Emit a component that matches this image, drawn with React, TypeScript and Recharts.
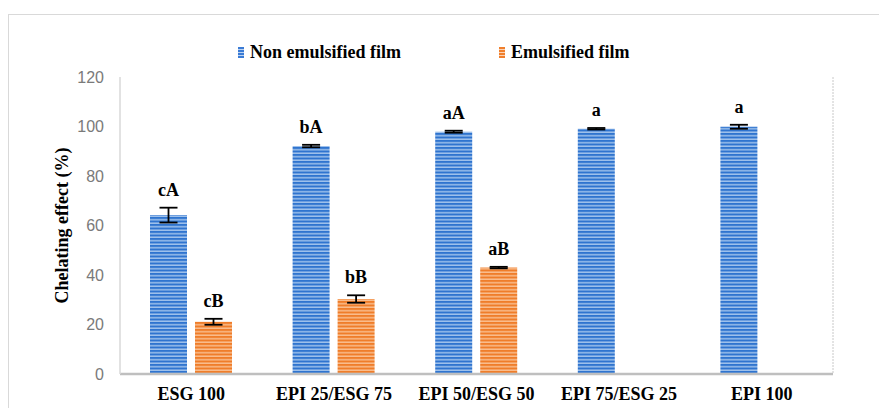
import { BarChart, Bar, XAxis, YAxis, ErrorBar, LabelList } from "recharts";

const categories = ["ESG 100", "EPI 25/ESG 75", "EPI 50/ESG 50", "EPI 75/ESG 25", "EPI 100"];
const nonEmulsified = [64.2, 92.1, 97.9, 99.1, 99.9];
const nonEmulsifiedErr = [3.0, 0.5, 0.4, 0.3, 0.8];
const nonEmulsifiedLetters = ["cA", "bA", "aA", "a", "a"];
const emulsified = [21.1, 30.3, 43.0, null, null];
const emulsifiedErr = [1.2, 1.5, 0.3, null, null];
const emulsifiedLetters = ["cB", "bB", "aB", "", ""];
const yTicks = [0, 20, 40, 60, 80, 100, 120];

const data = categories.map((name, i) => ({
  name,
  ne: nonEmulsified[i],
  neErr: nonEmulsifiedErr[i],
  neLabel: nonEmulsifiedLetters[i],
  em: emulsified[i],
  emErr: emulsifiedErr[i],
  emLabel: emulsifiedLetters[i],
}));

const SERIF = '"Liberation Serif", "Times New Roman", serif';

function makeLetter(errKey: "neErr" | "emErr") {
  return (props: any) => {
    const { x, y, width, height, value, index } = props;
    if (!value) return null;
    const row = data[index];
    const v = errKey === "neErr" ? row.ne : row.em;
    const err = (row as any)[errKey] ?? 0;
    const px = v ? height / v : 0;
    const top = y - err * px;
    return (
      <text
        x={x + width / 2}
        y={top - 12}
        textAnchor="middle"
        fontFamily={SERIF}
        fontWeight="bold"
        fontSize={18}
        fill="#000"
      >
        {value}
      </text>
    );
  };
}

function LegendBox() {
  const item = (color: string, label: string, w: number) => (
    <div style={{ display: "flex", alignItems: "center", width: w }}>
      <span
        style={{
          display: "inline-block",
          width: 6,
          height: 11,
          marginRight: 6,
          background: `repeating-linear-gradient(${color} 0 2px, #ffffffaa 2px 3px)`,
          backgroundColor: color,
        }}
      />
      <span style={{ fontFamily: SERIF, fontWeight: "bold", fontSize: 18, color: "#000" }}>{label}</span>
    </div>
  );
  return (
    <div style={{ position: "absolute", left: 238, top: 42, display: "flex" }}>
      {item("#3a7bd5", "Non emulsified film", 261)}
      {item("#f07f2c", "Emulsified film", 200)}
    </div>
  );
}

function YTitle(props: any) {
  const { viewBox } = props;
  const cx = viewBox.x + 62;
  const cy = viewBox.y + viewBox.height / 2;
  return (
    <text
      x={cx}
      y={cy}
      transform={`rotate(-90, ${cx}, ${cy})`}
      textAnchor="middle"
      dominantBaseline="central"
      fontFamily={SERIF}
      fontWeight="bold"
      fontSize={18}
      fill="#000"
    >
      Chelating effect (%)
    </text>
  );
}

export default function App() {
  return (
    <div
      style={{
        position: "fixed",
        left: 0,
        top: 0,
        width: 879,
        height: 408,
        overflow: "hidden",
        background: "#fff",
      }}
    >
      <div
        style={{
          position: "absolute",
          left: 8,
          top: 14,
          width: 1000,
          height: 600,
          border: "1px solid #d9d9d9",
        }}
      />
      <LegendBox />
      <div style={{ position: "absolute", left: 0, top: 0 }}>
        <BarChart
          width={879}
          height={408}
          data={data}
          margin={{ top: 77, right: 0, bottom: 0, left: 0 }}
          barSize={37}
          barGap={8}
        >
          <defs>
            <pattern id="blueStripe" width="6" height="3.5" patternUnits="userSpaceOnUse">
              <rect width="6" height="3.5" fill="#9fc2ec" />
              <rect width="6" height="2" fill="#2f74cf" />
            </pattern>
            <pattern id="orangeStripe" width="6" height="3.5" patternUnits="userSpaceOnUse">
              <rect width="6" height="3.5" fill="#f9bd8e" />
              <rect width="6" height="2" fill="#ef7d2a" />
            </pattern>
          </defs>
          <XAxis
            dataKey="name"
            height={34}
            axisLine={{ stroke: "#bfbfbf", strokeWidth: 2.5 }}
            tickLine={false}
            tickMargin={7}
            tick={{ fontFamily: SERIF, fontWeight: "bold", fontSize: 18, fill: "#000" }}
            interval={0}
          />
          <XAxis
            xAxisId="top"
            orientation="top"
            dataKey="name"
            height={0}
            tick={false}
            tickLine={false}
            axisLine={{ stroke: "#c8c8c8", strokeDasharray: "2 1" }}
          />
          <YAxis
            domain={[0, 120]}
            ticks={yTicks}
            width={120}
            axisLine={{ stroke: "#d9d9d9", strokeWidth: 1.5 }}
            tickLine={false}
            tickMargin={10}
            tick={{ fontFamily: '"Liberation Sans", Arial, sans-serif', fontSize: 16, fill: "#7a7a7a" }}
            label={<YTitle />}
          />
          <YAxis
            yAxisId="right"
            orientation="right"
            domain={[0, 120]}
            width={46}
            tick={false}
            tickLine={false}
            axisLine={{ stroke: "#c8c8c8", strokeDasharray: "2 1" }}
          />
          <Bar dataKey="ne" name="Non emulsified film" fill="url(#blueStripe)" isAnimationActive={false}>
            <ErrorBar dataKey="neErr" width={9} strokeWidth={1.8} stroke="#000" direction="y" />
            <LabelList dataKey="neLabel" content={makeLetter("neErr")} />
          </Bar>
          <Bar dataKey="em" name="Emulsified film" fill="url(#orangeStripe)" isAnimationActive={false}>
            <ErrorBar dataKey="emErr" width={9} strokeWidth={1.8} stroke="#000" direction="y" />
            <LabelList dataKey="emLabel" content={makeLetter("emErr")} />
          </Bar>
        </BarChart>
      </div>
    </div>
  );
}
